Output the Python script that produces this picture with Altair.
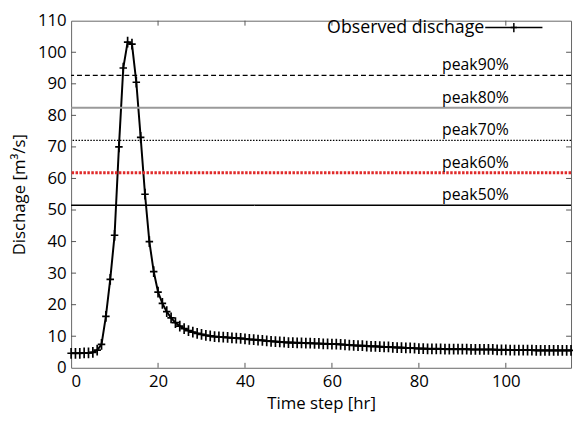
import altair as alt
import pandas as pd

# Observed discharge, hourly time steps 0..115
time_step = list(range(0, 116))
discharge = [
    4.6, 4.6, 4.6, 4.7, 4.7, 4.9, 5.6, 7.4, 16.3, 28.0,
    42.0, 70.0, 95.0, 103.2, 102.6, 90.5, 73.0, 55.0, 40.0, 30.5,
    24.0, 20.4, 17.8, 15.8, 14.3, 13.2, 12.4, 11.8, 11.3, 10.9,
    10.6, 10.3, 10.1, 9.9, 9.8, 9.7, 9.6, 9.5, 9.4, 9.3,
    9.2, 9.0, 8.9, 8.8, 8.7, 8.5, 8.4, 8.3, 8.2, 8.1,
    8.0, 8.0, 7.9, 7.9, 7.8, 7.8, 7.7, 7.7, 7.6, 7.6,
    7.5, 7.5, 7.4, 7.3, 7.2, 7.1, 7.0, 7.0, 6.9, 6.8,
    6.8, 6.7, 6.6, 6.6, 6.5, 6.4, 6.4, 6.3, 6.3, 6.2,
    6.1, 6.1, 6.0, 6.0, 6.0, 6.0, 5.9, 5.9, 5.9, 5.9,
    5.9, 5.9, 5.8, 5.8, 5.8, 5.8, 5.8, 5.8, 5.7, 5.7,
    5.7, 5.6, 5.6, 5.6, 5.6, 5.6, 5.6, 5.5, 5.5, 5.5,
    5.5, 5.5, 5.5, 5.5, 5.5, 5.5,
]

# Threshold lines
peak_labels = ["peak90%", "peak80%", "peak70%", "peak60%", "peak50%"]
peak_levels = [92.7, 82.4, 72.1, 61.8, 51.5]
peak_colors = ["black", "#9a9a9a", "black", "#e02a2a", "black"]
peak_widths = [1.2, 2.2, 1.2, 3.0, 1.5]
peak_dashes = [[5, 3], [1, 0], [1.5, 1.5], [2.5, 1.5], [1, 0]]
label_x = 93

x_ticks = [0, 20, 40, 60, 80, 100]
y_ticks = [0, 10, 20, 30, 40, 50, 60, 70, 80, 90, 100, 110]

W, H = 507, 352
FONT = "Open Sans"

df = pd.DataFrame({"t": time_step, "q": discharge})
xs = alt.Scale(domain=[0, 115], nice=False, zero=False)
ys = alt.Scale(domain=[0, 110], nice=False)

x_axis = alt.Axis(values=x_ticks, ticks=False, domain=False, grid=False,
                  labelOverlap=False, labelFontSize=17, labelPadding=6, labelColor="black",
                  titleFontSize=17, titleFontWeight="normal", titleColor="black",
                  titlePadding=6, labelFont=FONT, titleFont=FONT)
y_axis = alt.Axis(values=y_ticks, ticks=False, domain=False, grid=False,
                  labelOverlap=False, labelFontSize=17, labelPadding=5, labelColor="black",
                  titleFontSize=17, titleFontWeight="normal", titleColor="black",
                  titlePadding=9, labelFont=FONT, titleFont=FONT)

def X(field):
    return alt.X(field, scale=xs, axis=x_axis, title="Time step [hr]")

def Y(field):
    return alt.Y(field, scale=ys, axis=y_axis, title="Dischage [m³/s]")

base = alt.Chart(df)
line = base.mark_line(color="black", strokeWidth=2).encode(x=X("t:Q"), y=Y("q:Q"))
plus_path = "M-0.8,0H0.8M0,-1.15V1.15"
pts = base.mark_point(shape=plus_path, filled=False, color="black",
                      strokeWidth=1.7, size=90, opacity=1).encode(
    x=X("t:Q"), y=Y("q:Q"))

layers = [line, pts]
for lab, lev, col, w, d in zip(peak_labels, peak_levels, peak_colors, peak_widths, peak_dashes):
    pdf = pd.DataFrame({"v": [lev], "lab": [lab], "lx": [label_x]})
    pc = alt.Chart(pdf)
    layers.append(pc.mark_rule(color=col, strokeWidth=w, strokeDash=d).encode(
        y=Y("v:Q")))
    layers.append(pc.mark_text(font=FONT, fontSize=16, color="black",
                               align="center", baseline="alphabetic", dy=-5).encode(
        x=X("lx:Q"), y=Y("v:Q"), text="lab:N"))

# inward ticks (box style)
xt = alt.Chart(pd.DataFrame({"v": x_ticks[1:]}))
yt = alt.Chart(pd.DataFrame({"v": y_ticks[1:-1]}))
tick_col = "#555"
layers += [
    xt.mark_rule(color=tick_col).encode(x=X("v:Q"), y=alt.value(H), y2=alt.value(H - 5)),
    xt.mark_rule(color=tick_col).encode(x=X("v:Q"), y=alt.value(0), y2=alt.value(5)),
    yt.mark_rule(color=tick_col).encode(y=Y("v:Q"), x=alt.value(0), x2=alt.value(5)),
    yt.mark_rule(color=tick_col).encode(y=Y("v:Q"), x=alt.value(W), x2=alt.value(W - 5)),
]

# legend (text left, sample right, MATLAB style)
leg = alt.Chart(pd.DataFrame({"name": ["Observed dischage"]}))
layers += [
    leg.mark_text(font=FONT, fontSize=18, color="black", align="right",
                  baseline="middle").encode(x=alt.value(419), y=alt.value(7), text="name:N"),
    leg.mark_rule(color="black", strokeWidth=1.5).encode(
        x=alt.value(420), x2=alt.value(478), y=alt.value(7)),
    leg.mark_point(shape=plus_path, filled=False, color="black", strokeWidth=1.5,
                   size=64, opacity=1).encode(x=alt.value(449), y=alt.value(7)),
]

chart = alt.layer(*layers).properties(
    width=W, height=H,
    autosize=alt.AutoSizeParams(type="none"),
    padding={"left": 64, "top": 10, "right": 2, "bottom": 45},
    background="white",
).configure_view(stroke="#666", strokeWidth=1)

chart.save("out.html", embed_options={"renderer": "svg", "actions": False})
